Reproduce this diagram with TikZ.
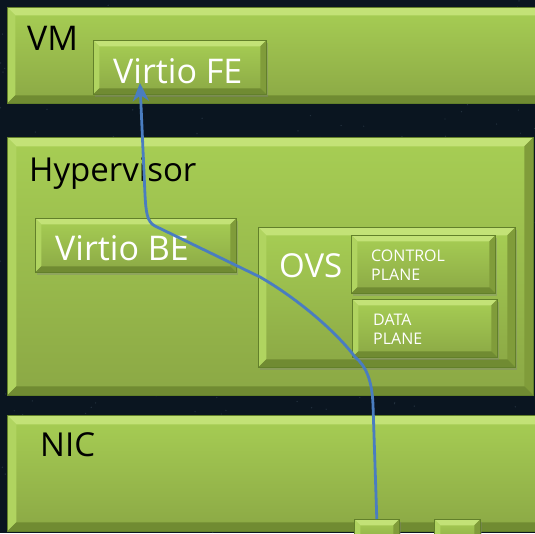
\documentclass[tikz,border=0pt]{standalone}
\usepackage{fontspec}
\setmainfont{Open Sans}
\usetikzlibrary{arrows.meta,shadows}

\definecolor{night}{HTML}{0A1520}
\definecolor{speck}{HTML}{5A6E80}
\definecolor{slabtop}{HTML}{A7CE54}
\definecolor{slabbot}{HTML}{8BA845}
\definecolor{bevtop}{HTML}{C3E277}
\definecolor{bevleft}{HTML}{B0D460}
\definecolor{bevright}{HTML}{809C3A}
\definecolor{bevbot}{HTML}{708B32}
\definecolor{slabedge}{HTML}{62802A}
\definecolor{flowblue}{HTML}{4A7DC0}

% bevelled edges of a slab, b = bevel width
\newcommand{\bevels}[1]{%
  \fill[bevtop] (path picture bounding box.north west) -- (path picture bounding box.north east)
    -- ([shift={(-#1,#1)}]path picture bounding box.north east) -- ([shift={(#1,#1)}]path picture bounding box.north west) -- cycle;
  \fill[bevleft] (path picture bounding box.north west) -- ([shift={(#1,#1)}]path picture bounding box.north west)
    -- ([shift={(#1,-#1)}]path picture bounding box.south west) -- (path picture bounding box.south west) -- cycle;
  \fill[bevright] (path picture bounding box.north east) -- (path picture bounding box.south east)
    -- ([shift={(-#1,-#1)}]path picture bounding box.south east) -- ([shift={(-#1,#1)}]path picture bounding box.north east) -- cycle;
  \fill[bevbot] (path picture bounding box.south west) -- ([shift={(#1,-#1)}]path picture bounding box.south west)
    -- ([shift={(-#1,-#1)}]path picture bounding box.south east) -- (path picture bounding box.south east) -- cycle;
}

\tikzset{
  slab/.style={rectangle, inner sep=0pt, anchor=north west, draw=slabedge, line width=0.6pt,
    top color=slabtop, bottom color=slabbot, path picture={\bevels{#1}}},
  subslab/.style={slab=#1, drop shadow={shadow xshift=2pt, shadow yshift=-2.5pt, opacity=.35}},
  darklbl/.style={anchor=base west, inner sep=0pt, text=black},
  lightlbl/.style={anchor=base west, inner sep=0pt, text=white},
  smalllbl/.style={lightlbl, align=left, font=\fontsize{16}{19}\selectfont},
  flow/.style={draw=flowblue, line width=2.8pt, -{Stealth[length=18pt,width=16pt]}},
}

\begin{document}
\begin{tikzpicture}[x=1pt,y=-1pt]
  \useasboundingbox (0,0) rectangle (535,533);
  \clip (0,0) rectangle (535,533);

  % Background
  \fill[night] (0,0) rectangle (535,533);
  \pgfmathsetseed{17}
  \foreach \i in {1,...,500}
    \fill[speck, opacity=.3] (rnd*535, rnd*533) circle (0.7);

  % VM layer
  \node[slab=8, minimum width=540, minimum height=96] (vm) at (7,7) {};
  \node[subslab=6, minimum width=173, minimum height=54] (fe) at (93,40) {};
  \node[darklbl, font=\fontsize{34}{40}\selectfont] (vmlbl) at (27,50) {VM};
  \node[lightlbl, font=\fontsize{34}{40}\selectfont] (felbl) at (113,83) {Virtio FE};

  % Hypervisor layer
  \node[slab=9, minimum width=526, minimum height=258] (hyp) at (7,137) {};
  \node[darklbl, font=\fontsize{33}{40}\selectfont] (hyplbl) at (29,181) {Hypervisor};
  \node[subslab=6, minimum width=201, minimum height=54] (be) at (35,218) {};
  \node[lightlbl, font=\fontsize{34}{40}\selectfont] (belbl) at (55,260) {Virtio BE};

  % OVS with its two planes
  \node[subslab=8, minimum width=257, minimum height=140] (ovs) at (258,227) {};
  \node[lightlbl, font=\fontsize{33}{40}\selectfont] (ovslbl) at (279,277) {OVS};
  \node[subslab=6, minimum width=144, minimum height=58] (ctrl) at (351,235) {};
  \node[smalllbl] (ctrllbl) at (371,280) {CONTROL\\PLANE};
  \node[subslab=6, minimum width=145, minimum height=58] (data) at (352,299) {};
  \node[smalllbl] (datalbl) at (373,344) {DATA\\PLANE};

  % NIC layer and ports
  \node[slab=9, minimum width=540, minimum height=116] (nic) at (7,415) {};
  \node[darklbl, font=\fontsize{33}{40}\selectfont] (niclbl) at (40,456) {NIC};
  \node[subslab=6, minimum width=45, minimum height=26] (portA) at (354,519) {};
  \node[subslab=6, minimum width=46, minimum height=26] (portB) at (434,519) {};

  % Packet path
  \coordinate (fetip) at (140,83);
  \draw[flow] (portA.north) -- (373,405) .. controls (372,380) and (366,366) .. (355,357)
    .. controls (338,334) and (300,300) .. (260,277) -- (155,226)
    .. controls (147,222) and (146,212) .. (145,195) -- (fetip);
\end{tikzpicture}
\end{document}
